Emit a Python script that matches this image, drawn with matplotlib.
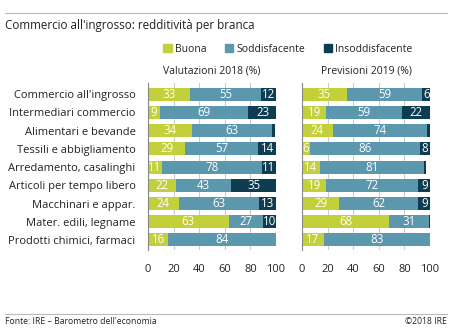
import matplotlib.pyplot as plt
from matplotlib import font_manager
import numpy as np

names = {f.name for f in font_manager.fontManager.ttflist}
narrow = "Liberation Sans Narrow" if "Liberation Sans Narrow" in names else "Open Sans"
plt.rcParams['font.family'] = ['Open Sans', 'DejaVu Sans']

branches = ["Commercio all'ingrosso", "Intermediari commercio", "Alimentari e bevande",
            "Tessili e abbigliamento", "Arredamento, casalinghi", "Articoli per tempo libero",
            "Macchinari e appar.", "Mater. edili, legname", "Prodotti chimici, farmaci"]

# Valutazioni 2018
buona_2018 = [33, 9, 34, 29, 11, 22, 24, 63, 16]
sodd_2018 = [55, 69, 63, 57, 78, 43, 63, 27, 84]
insodd_2018 = [12, 23, 2, 14, 11, 35, 13, 10, 0]

# Previsioni 2019
buona_2019 = [35, 19, 24, 6, 14, 19, 29, 68, 17]
sodd_2019 = [59, 59, 74, 86, 81, 72, 62, 31, 83]
insodd_2019 = [6, 22, 2, 8, 2, 9, 9, 1, 0]

ticks = [0, 20, 40, 60, 80, 100]
col_buona = "#c3cf3b"
col_sodd = "#5b97ad"
col_insodd = "#0e3c51"
txt = "#222222"

fig = plt.figure(figsize=(4.5, 3.28), dpi=100)
ax1 = fig.add_axes([148 / 450, 0.238, 128 / 450, 0.509])
ax2 = fig.add_axes([302 / 450, 0.238, 128 / 450, 0.509])

y = np.arange(len(branches))


def draw(ax, b, s, i, title):
    b = np.array(b); s = np.array(s); i = np.array(i)
    for vals, left, col in [(b, 0, col_buona), (s, b, col_sodd), (i, b + s, col_insodd)]:
        bars = ax.barh(y, vals, left=left, height=0.72, color=col, zorder=2)
        for rect, v in zip(bars, vals):
            if v >= 5:
                ax.text(rect.get_x() + rect.get_width() / 2, rect.get_y() + rect.get_height() / 2,
                        str(v), color="white", ha="center", va="center", fontsize=8.3, zorder=3)
    ax.set_xlim(0, 100)
    ax.set_ylim(8.55, -0.62)
    ax.set_xticks(ticks)
    ax.set_xticklabels([str(t) for t in ticks], fontsize=8, color=txt)
    ax.tick_params(axis="x", length=0, pad=10)
    ax.tick_params(axis="y", length=0)
    ax.grid(axis="x", color="#cccccc", linewidth=0.8, zorder=0)
    for sp in ["top", "right", "bottom"]:
        ax.spines[sp].set_visible(False)
    ax.spines["left"].set_color("#888888")
    ax.spines["left"].set_linewidth(0.8)
    ax.set_title(title, fontsize=7.5, color=txt, pad=7)


draw(ax1, buona_2018, sodd_2018, insodd_2018, "Valutazioni 2018 (%)")
draw(ax2, buona_2019, sodd_2019, insodd_2019, "Previsioni 2019 (%)")

ax1.set_yticks(y)
ax1.set_yticklabels(branches, fontsize=8.6 if narrow != "Open Sans" else 8.0,
                    color=txt, family=[narrow, 'DejaVu Sans'])
ax1.tick_params(axis="y", pad=9)
ax2.set_yticks([])

# title, legend, frame lines, footer
fig.text(5 / 450, 1 - 25 / 328, "Commercio all'ingrosso: redditività per branca",
         fontsize=8.4, color=txt, va="center", ha="left")
fig.add_artist(plt.Line2D([5 / 450, 447 / 450], [1 - 13 / 328, 1 - 13 / 328], color="#bbbbbb", lw=0.8))
fig.add_artist(plt.Line2D([5 / 450, 447 / 450], [1 - 314 / 328, 1 - 314 / 328], color="#bbbbbb", lw=0.8))

handles = [plt.Rectangle((0, 0), 1, 1, color=c) for c in (col_buona, col_sodd, col_insodd)]
fig.legend(handles, ["Buona", "Soddisfacente", "Insoddisfacente"], loc="center",
           bbox_to_anchor=(288 / 450, 1 - 49 / 328), ncol=3, frameon=False, fontsize=7.5,
           handlelength=0.8, handleheight=0.8, handletextpad=0.3, columnspacing=1.8,
           labelcolor=txt)

fig.text(5 / 450, 1 - 322 / 328, "Fonte: IRE – Barometro dell'economia", fontsize=6.2,
         color=txt, va="center", ha="left")
fig.text(447 / 450, 1 - 322 / 328, "©2018 IRE", fontsize=6.2, color=txt, va="center", ha="right")

fig.savefig("out.png", dpi=100)
